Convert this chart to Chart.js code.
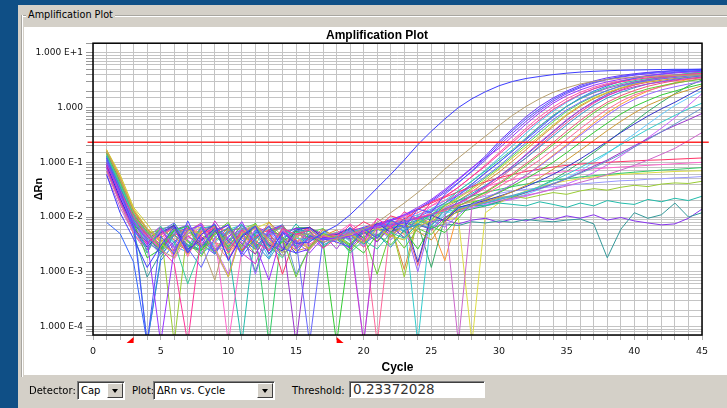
<!DOCTYPE html>
<html>
<head>
<meta charset="utf-8">
<script src="https://cdn.jsdelivr.net/npm/chart.js@4.4.1/dist/chart.umd.min.js"></script>
<style>
  body { margin:0; width:727px; height:408px; overflow:hidden; background:#0f4f86; position:relative; font-family:"DejaVu Sans", sans-serif; }
  #panel { position:absolute; left:18px; top:5px; right:0; bottom:0; background:#d4d0c8; }
  #groupline { position:absolute; left:21px; top:15px; right:0; height:0; border-top:1px solid #a8a6a0; border-bottom:1px solid #fff; }
  #groupleft { position:absolute; left:21px; top:15px; width:0; height:362px; border-left:1px solid #a8a6a0; border-right:1px solid #fff; }
  #grouplabel { position:absolute; left:26px; top:9px; padding:0 2px; background:#d4d0c8; font-size:9.7px; color:#000; }
  #plotbg { position:absolute; left:24px; top:27px; width:703px; height:348px; background:#fff; }
  #wrap { position:absolute; left:24px; top:27px; width:703px; height:348px; }
  #ytitle { position:absolute; left:37.5px; top:188.5px; transform:translate(-50%,-50%) rotate(-90deg); font:bold 11px "Liberation Sans", sans-serif; white-space:nowrap; }
  .lbl { position:absolute; top:385px; font-size:10px; color:#000; }
  .combo { position:absolute; top:381px; height:19px; box-sizing:border-box; border:1px solid; border-color:#808080 #fff #fff #808080; background:#fff; box-shadow:inset 1px 1px 0 #404040; }
  .combo span { position:absolute; left:3px; top:3px; font-size:10px; white-space:nowrap; }
  .btn { position:absolute; right:1px; top:1px; width:16px; height:15px; box-sizing:border-box; background:#d4d0c8; border:1px solid; border-color:#fff #404040 #404040 #fff; }
  .btn::after { content:''; position:absolute; left:3.5px; top:5px; border-left:3.5px solid transparent; border-right:3.5px solid transparent; border-top:4px solid #000; }
  #edit { position:absolute; left:349px; top:381px; width:136px; height:17px; box-sizing:border-box; background:#fff; border:1px solid; border-color:#808080 #fff #fff #808080; box-shadow:inset 1px 1px 0 #404040; font-size:13.5px; color:#333; padding-left:3px; line-height:15px; }
</style>
</head>
<body>
<div id="panel"></div>
<div id="groupline"></div>
<div id="groupleft"></div>
<div id="grouplabel">Amplification Plot</div>
<div id="plotbg"></div>
<div id="wrap"><canvas id="amp" width="703" height="348"></canvas></div>
<div id="ytitle">ΔRn</div>
<div class="lbl" style="left:29px">Detector:</div>
<div class="combo" style="left:77px;width:48px"><span>Cap</span><div class="btn"></div></div>
<div class="lbl" style="left:132px">Plot:</div>
<div class="combo" style="left:153px;width:122px"><span>ΔRn vs. Cycle</span><div class="btn"></div></div>
<div class="lbl" style="left:292px">Threshold:</div>
<div id="edit">0.23372028</div>
<script>
// cycles and axis labels
const cycles = [1,2,3,4,5,6,7,8,9,10,11,12,13,14,15,16,17,18,19,20,21,22,23,24,25,26,27,28,29,30,31,32,33,34,35,36,37,38,39,40,41,42,43,44,45];
const xTickLabels = ['0','5','10','15','20','25','30','35','40','45'];
const yTickValues = [1e-4, 1e-3, 1e-2, 1e-1, 1, 10];
const yTickLabels = ['1.000 E-4', '1.000 E-3', '1.000 E-2', '1.000 E-1', '1.000', '1.000 E+1'];
const threshold = 0.23372028;
const baselineCycles = [3, 18];

// delta Rn per well (5e-5 = dropped below the axis)
const s01 = [.06,.012,.004,.0012,.003,.0065,.0022,.0048,.0075,.0016,.0045,.0068,.0021,.0052,.0033,
  .0035,.0052,.007,.011,.019,.034,.06,.11,.21,.37,.62,1.0,1.45,1.95,2.5,
  3.0,3.4,3.7,4.0,4.25,4.45,4.6,4.7,4.8,4.85,4.9,4.95,5.0,5.0,5.05];
const s02 = [.16,.05,.012,.006,.0025,.0018,.0055,.0032,.0007,.0062,.0028,.0072,.0035,.0019,.0045,
  .005,.0035,.004,.005,.006,.008,.012,.018,.028,.045,.075,.12,.19,.3,.47,
  .72,1.05,1.45,1.9,2.3,2.7,3.0,3.25,3.45,3.6,3.7,3.8,3.85,3.9,3.95];
const s03 = [.12,.03,.007,5e-5,.0045,.0021,.0085,.0028,.0055,.0072,.0019,.004,.0068,.0027,.0022,
  .0045,.004,.0035,.0028,.0062,.0041,.0088,.0065,.014,.012,.026,.042,.07,.12,.22,
  .38,.62,.95,1.4,1.9,2.4,2.9,3.3,3.7,4.0,4.3,4.5,4.7,4.85,5.0];
const s04 = [.1,.025,.008,.0038,5e-5,.0026,.0058,.0071,.0024,.0042,.0082,.0031,.0007,.0055,.0036,
  .0022,.0042,.004,.0045,.0055,.007,.0085,.011,.015,.021,.032,.05,.08,.12,.18,
  .3,.5,.8,1.2,1.65,2.1,2.55,2.95,3.3,3.6,3.85,4.1,4.3,4.45,4.6];
const s05 = [.09,.03,.01,.0045,.0026,.0014,5e-5,.0048,.0065,.0022,.0058,.0036,.0024,.0062,.0048,
  .0058,.0027,.0041,.0072,.0035,.0095,.0062,.0125,.009,.019,.024,.035,.055,.085,.14,
  .23,.38,.6,.92,1.3,1.75,2.2,2.6,2.95,3.25,3.5,3.7,3.9,4.05,4.2];
const s06 = [.14,.04,.012,.0022,.0068,.0035,.0006,.0028,.0062,.0024,.0046,.0071,.0029,.0018,.0052,
  .0055,.0028,.0045,.0022,.0038,.0026,.0052,.0041,.0075,.011,.018,.03,.045,.07,.11,
  .17,.28,.46,.72,1.05,1.45,1.9,2.35,2.75,3.1,3.4,3.7,3.95,4.2,4.4];
const s07 = [.11,.028,.006,.0025,.0055,.0078,.0027,.0012,.0042,.0066,.0021,.0058,.0045,.0019,.0038,
  5e-5,.004,.0042,.005,.006,.007,.0072,.008,.01,.013,.018,.025,.037,.055,.085,
  .14,.23,.38,.6,.9,1.25,1.65,2.05,2.45,2.8,3.1,3.35,3.55,3.75,3.9];
const s08 = [.17,.06,.015,.0075,.0033,.0021,.0058,.0049,.0027,.0008,.0052,.0074,.0038,.0022,.0046,
  .0026,.0048,.0039,.005,.0034,.0062,.0045,.0038,.0068,.0085,.016,.022,.032,.048,.075,
  .12,.19,.3,.48,.75,1.1,1.5,1.9,2.3,2.7,3.0,3.3,3.55,3.8,4.0];
const s09 = [.08,.02,.006,.0032,.0062,.0024,.0045,.0029,.0085,.0038,.0022,.0014,.0056,.0069,.0026,
  .004,.0045,.005,.0042,5e-5,.0075,.0068,.008,.0095,.011,.014,.018,.025,.036,.055,
  .085,.14,.23,.37,.6,.9,1.25,1.65,2.05,2.4,2.7,2.95,3.2,3.4,3.6];
const s10 = [.13,.035,.009,5e-5,.0018,.0048,.0029,.0066,.0021,.0052,.0074,.0033,.0017,.0041,.0058,
  .0055,.0031,.004,.0065,.0032,.0048,.0028,.0058,.0075,.0062,.011,.02,.027,.038,.055,
  .08,.12,.19,.3,.48,.74,1.1,1.5,1.9,2.3,2.7,3.0,3.3,3.55,3.8];
const s11 = [.15,.045,.011,.0055,.0028,.0061,.0036,.0019,.0052,.008,.0024,.0039,.0067,.0042,.0008,
  .0028,.005,.004,.0024,.0046,.0009,.0055,.0027,.0062,.0048,.0092,.016,.021,.028,.04,
  .058,.088,.135,.21,.33,.52,.8,1.15,1.5,1.85,2.2,2.5,2.8,3.05,3.3];
const s12 = [.07,.018,.005,.0026,.0048,.0062,.0019,.0058,.0034,.0017,.0051,.0066,.0025,.0061,.0032,
  .0032,.0044,.0046,.005,.0055,5e-5,.0078,.009,.0098,.0115,.013,.016,.02,.026,.036,
  .05,.075,.11,.17,.26,.41,.63,.93,1.3,1.7,2.05,2.4,2.75,3.1,3.4];
const s13 = [.12,.032,.008,.0042,.0068,.0027,.0049,.0076,.0021,.0045,.0058,.0009,.0052,.0039,.0028,
  .0062,.004,.0038,.0058,.0029,.0066,.0038,.0072,.001,.0088,.0065,.011,.017,.022,.029,
  .04,.058,.085,.13,.2,.31,.48,.72,1.05,1.4,1.75,2.1,2.4,2.7,3.0];
const s14 = [.1,.03,.008,.0018,.0026,.0057,.0069,.0025,.0048,.0062,.0029,.0078,.0022,.0035,.0055,
  .0042,.0035,5e-5,.0034,.0022,.0048,.0031,.0057,.0026,.0068,.0052,.0095,.018,.022,.028,
  .037,.05,.07,.1,.15,.23,.35,.52,.76,1.05,1.35,1.7,2.0,2.35,2.7];
const s15 = [.16,.05,.013,.006,.0036,.0048,.0021,.0054,.0068,.0026,.0049,.0031,.0082,.0044,.0024,
  .0028,.0059,.0042,.0048,.0033,.0062,.0045,.0072,.0055,.0038,.0082,.0135,.016,.019,.023,
  .029,.038,.052,.075,.11,.165,.25,.38,.56,.8,1.1,1.4,1.75,2.1,2.5];
const s16 = [.09,.022,.0065,.0028,.0052,.0071,.0026,.0038,.0062,.0017,.0043,.0065,.0031,.0024,.0058,
  .0065,.0042,.0048,.0062,.0041,.0078,.0052,.0095,.0015,.011,.0085,.015,.0175,.02,.024,
  .029,.036,.046,.06,.082,.115,.165,.24,.35,.5,.7,.95,1.25,1.7,2.3];
const s17 = [.13,.04,.01,.0052,.0029,.0055,.0068,.0021,.0034,.0059,.0072,.0037,.0026,.0063,.0041,
  .0038,.005,.0045,.0055,.006,.0068,.0078,.0088,5e-5,.011,.0125,.014,.016,.018,.021,
  .024,.029,.036,.046,.06,.08,.11,.15,.21,.29,.4,.54,.72,.95,1.2];
const s18 = [.11,.03,.009,.0038,.0021,.0049,.0058,.0072,.0026,.0034,.0061,.0028,.0046,.0067,.0009,
  .0027,.0045,.0052,.0038,.0065,.0044,.0078,.0052,.0098,.0072,.0135,.015,.017,.019,.022,
  .025,.029,.034,.041,.05,.063,.08,.105,.14,.19,.26,.36,.5,.7,.98];
const s19 = [.08,.02,.006,.0035,.0048,.0069,.0023,.0041,.0058,.0071,.0032,.0021,.0054,.0047,5e-5,
  .0045,.0038,.0042,.0026,.0052,.0035,.0068,.0042,.0075,.0058,.0098,.014,.016,.018,.021,
  .024,.028,.033,.04,.05,.065,.085,.11,.15,.2,.27,.36,.47,.6,.78];
const s20 = [.06,.015,.005,.0022,.0061,.0028,.0066,.0042,.0024,.0008,.0056,.0073,.0033,.0027,.0049,
  .0042,.0045,.0038,.0048,.0058,.0065,.0075,.0085,.0098,.011,.0125,5e-5,.016,.018,.02,
  .022,.025,.028,.032,.037,.043,.05,.06,.072,.088,.11,.14,.18,.25,.35];
const s21 = [.15,.045,.012,.0052,.0027,.0046,.0063,.0029,.0051,.0072,.0025,.0044,.0059,.0009,.0047,
  .0066,.0042,.0045,.0055,.0082,.0062,.0105,.0088,.014,.018,.023,.029,.036,.044,.052,
  .06,.068,.075,.082,.088,.093,.097,.1,.103,.106,.109,.111,.114,.117,.12];
const s22 = [.1,.028,.007,.0033,.0059,.0017,.0042,.0067,.0048,5e-5,.0025,.0061,.0031,.0056,.0043,
  .0025,.0048,.005,.0075,.0052,.0092,.0068,.011,.0095,.016,.02,.025,.03,.036,.042,
  .048,.054,.059,.064,.068,.072,.076,.079,.082,.085,.088,.091,.094,.097,.1];
const s23 = [.12,.035,.009,.0046,.0023,.0078,.0036,.0024,.0063,.0029,.0055,.0047,5e-5,.0068,.0027,
  .0061,.004,.0048,.0032,.0062,.0045,.0085,.0062,.0105,.0088,.017,.02,.024,.028,.032,
  .036,.04,.044,.047,.05,.054,.057,.06,.063,.066,.069,.072,.074,.077,.08];
const s24 = [.09,.024,.007,.0038,.0055,.0064,.0022,.0058,.0029,.0024,.0068,.0041,.0053,.0031,.0026,
  .0045,.0038,.005,.0055,5e-5,.007,.008,.0092,.011,.013,.015,.018,.021,.024,.027,
  .03,.032,.034,.036,.038,.04,.042,.044,.046,.047,.049,.05,.052,.053,.055];
const s25 = [.14,.04,.011,.0051,.0058,5e-5,.0066,.0031,.0023,.0057,.0062,.0026,.0044,.0071,.0035,
  .0027,.0046,.0042,.0031,.0058,.0036,.0075,.0008,.0092,.0072,.014,.0165,.019,.021,.023,
  .024,.022,.025,.028,.026,.03,.033,.031,.035,.038,.036,.04,.042,.041,.045];
const s26 = [.11,.03,.008,.0041,.0025,.0058,.0024,.0063,.0069,.0027,5e-5,.0058,.0029,.0036,.0075,
  .0042,.004,.0046,.0028,.0062,.0041,.0072,.0055,.0088,.0068,.0135,.015,.0165,.016,.018,
  .017,.016,.019,.017,.015,.018,.016,.02,.018,.017,.021,.019,.022,.02,.024];
const s27 = [.07,.018,.005,.0008,.0022,.0057,.0031,.0025,.0066,.0035,.0058,.001,.0053,.0069,.0029,
  .0046,.0042,.0038,.0045,.005,.006,.0055,.0065,.007,.0062,.0075,.007,.0082,.0078,.0085,
  .008,.009,.0085,.0082,.0088,.0092,.0075,.0018,.006,.012,.0095,.011,.018,.01,.012];
const s28 = [.13,.035,.009,.0047,.0021,.0035,.0068,.0044,.0023,.0059,.0032,.0071,.0024,.0048,.0062,
  .0062,.0048,.0044,.0052,.0058,.0064,.007,.0078,.0068,.0082,.009,.0075,.0088,.0095,.008,
  .0092,.0085,.01,.009,.0105,.0095,.011,.0088,.0098,.0085,.0078,.0072,.0075,.0095,.014];
const s29 = [.15,.05,.014,.0062,.0034,.0024,.0057,.0066,.0035,.0021,.0048,.0062,.008,.0033,.0025,
  .0042,.0048,.0052,.0045,.0055,.006,.0068,.0075,.008,.0085,.009,.0095,5e-5,.012,.018,
  .024,.03,.036,.041,.046,.05,.054,.057,.06,.062,.064,.066,.068,.069,.07];
const s30 = [.008,.005,.0015,5e-5,.0016,.0032,.0067,.0039,.0022,.0061,.0038,.0026,.0058,.0072,.0029,
  .0042,.0045,.0048,.004,.0052,.0058,.0062,.0072,.0088,.011,.016,.025,.04,.065,.1,
  .16,.26,.42,.68,1.05,1.5,2.0,2.5,3.0,3.4,3.8,4.1,4.4,4.6,4.8];
const s31 = [.13,.038,.01,.0051,.0032,.0024,.0055,.0078,.0035,.0026,.0052,.0066,.0038,.0027,.0059,
  .003,.0042,.005,.0055,.0062,.007,.0078,.0085,.0095,.011,.013,.017,.024,.034,.05,
  .078,.12,.2,.33,.53,.82,1.2,1.65,2.1,2.6,3.0,3.4,3.8,4.15,4.5];
const s32 = [.1,.028,.0075,.0038,.0061,.0068,.0029,.0024,.0056,.0037,.0071,.0029,.0049,.0025,.0064,
  .0064,.0048,.0042,.0029,.0055,.0036,.0068,.0042,.0075,.0012,.0098,.0125,.014,.016,.019,
  .023,.028,.036,.048,.068,.1,.15,.23,.36,.55,.85,1.25,1.8,2.5,3.2];
const s33 = [.12,.034,.009,.0046,.0027,.0052,.0073,.0035,.0028,.0009,.0058,.0046,.0069,.0061,.0027,
  .0048,.0044,.0046,.0062,.0035,.0071,.0045,.0086,.0058,.0108,.0082,.0135,.015,.017,.019,
  .021,.024,.028,.033,.04,.05,.065,.09,.13,.19,.28,.42,.65,1.1,1.8];
const s34 = [.09,.022,.006,.0025,.0052,.0066,.0024,.0058,.0071,.0036,.0023,.0051,.0067,.0039,.0022,
  .0026,.0045,.005,.0055,.0065,.0075,.009,.011,.014,.02,.03,.048,.078,.13,.24,
  .41,.68,1.05,1.5,2.0,2.55,3.05,3.5,3.85,4.15,4.4,4.6,4.75,4.85,4.9];
const s35 = [.17,.055,.014,.0062,.0038,.002,.0061,.0052,.0073,.0031,.0054,.0025,.0059,.0068,.0034,
  .006,.0038,.0045,.0031,.0058,.0042,.0072,.0048,.0085,.0068,.0016,.013,.016,.021,.028,
  .04,.058,.088,.135,.21,.33,.52,.8,1.15,1.55,2.0,2.45,2.85,3.3,3.7];
const s36 = [.075,.02,.0055,.0028,.0059,.0033,.0068,.0027,.0052,.0074,.0026,.0048,.0062,.0033,.0057,
  .003,.0042,.0052,.0036,.0065,.0045,.0078,.0056,.0094,.0072,.0118,.013,.0148,.0168,.019,
  .022,.026,.032,.04,.052,.07,.1,.145,.22,.33,.5,.75,1.1,1.5,2.0];
const s37 = [.11,.03,.0085,.0041,.0026,.0059,.0071,.0032,.0021,.0055,.0064,.0028,.0047,.0072,.0035,
  .0044,.0027,.0052,.0061,.0058,.0074,.0085,.0105,.0135,.019,.028,.043,.068,.11,.2,
  .34,.56,.88,1.3,1.8,2.3,2.8,3.25,3.6,3.9,4.15,4.35,4.5,4.6,4.7];
const s38 = [.14,.042,.011,.0048,.0031,.0024,.0062,.0049,.0058,.0023,.0036,.0068,.0052,.0025,.0041,
  .0063,.0034,.0045,.0052,.0064,.0071,.0088,.0098,.012,.016,.023,.035,.055,.09,.15,
  .25,.42,.68,1.02,1.45,1.9,2.35,2.75,3.1,3.4,3.65,3.85,4.0,4.15,4.3];
const s39 = [.1,.027,.0072,.0036,.0062,.0029,.0023,.0055,.0067,.0041,.0027,.0053,.0018,.0061,.0046,
  .0029,.0055,.0042,.0048,.0061,.0066,.0078,.009,.011,.014,.02,.03,.046,.072,.12,
  .2,.34,.56,.86,1.25,1.7,2.2,2.65,3.05,3.45,3.8,4.05,4.3,4.45,4.6];
const s40 = [.085,.021,.0062,.0031,.0047,.0066,.0039,.0021,.0058,.0033,.0071,.0046,.0029,.0052,.0063,
  .0037,.0049,.0026,.0056,.0038,.0069,.0048,.0088,.0072,.0135,.018,.027,.04,.063,.1,
  .16,.27,.45,.7,1.05,1.45,1.85,2.25,2.6,2.95,3.25,3.5,3.7,3.85,4.0];
const s41 = [.13,.037,.0095,.0049,.0058,.0033,.0025,.0067,.0044,.0029,.0061,.0075,.0034,.0043,.0021,
  .0051,.0062,.0038,.0047,.0032,.0061,.0044,.0085,.0065,.0125,.016,.023,.034,.052,.08,
  .13,.21,.34,.55,.85,1.2,1.6,2.05,2.5,2.9,3.25,3.55,3.8,3.95,4.1];
const s42 = [.16,.052,.013,.0058,.0041,.0067,.0048,.0027,.0036,.0064,.0043,.0021,.0057,.0069,.0038,
  .0026,.0045,.0058,.0036,.0057,.0041,.0073,.0011,.0098,.0078,.015,.02,.029,.044,.066,
  .105,.17,.28,.45,.72,1.05,1.45,1.85,2.25,2.6,2.9,3.15,3.4,3.6,3.8];
const s43 = [.095,.025,.007,.0034,.0024,.0051,.0064,.0038,.0055,.0028,.0049,.0073,.0041,.0022,.0056,
  .0047,.0033,.0049,.0058,.0055,.0067,.0074,.0084,.0096,.0112,.014,.018,.025,.037,.055,
  .085,.135,.22,.36,.58,.9,1.3,1.75,2.25,2.75,3.2,3.6,3.9,4.15,4.4];
const s44 = [.12,.033,.0088,.0043,.0066,.0038,.0025,.0049,.0062,.0055,.0023,.0046,.0068,.0034,.0051,
  .0039,.0061,.0033,.0049,.0028,.0065,.0042,.0081,.0013,.0107,.0082,.016,.021,.029,.042,
  .062,.095,.145,.23,.37,.58,.88,1.25,1.65,2.05,2.45,2.8,3.1,3.3,3.5];

const wells = [s01,s02,s03,s04,s05,s06,s07,s08,s09,s10,s11,s12,s13,s14,s15,s16,s17,s18,s19,s20,s21,s22,
  s23,s24,s25,s26,s27,s28,s29,s30,s31,s32,s33,s34,s35,s36,s37,s38,s39,s40,s41,s42,s43,s44];
const wellColors = ['#3c3cff','#b8a070','#5050ff','#9933ff','#ff3399','#33cc99','#6666ff','#cccc33',
  '#cc33cc','#3399cc','#66cc33','#ff6699','#9966ff','#33cc33','#cc9933','#3333cc','#33cccc','#6699cc',
  '#9933cc','#cc66cc','#ff3366','#ff66cc','#33cc66','#9999ff','#99cc33','#22bbaa','#339999','#8833ee',
  '#dddd44','#3366ff','#ee4499','#33aa66','#cc66ff','#6633ff','#ff9933','#66ccff',
  '#7744ff','#ff55aa','#44bbee','#aa44dd','#55dd55','#dd8833','#4466dd','#ee5577'];

const datasets = [{
  data: [{x: -0.4, y: threshold}, {x: 45.5, y: threshold}],
  borderColor: '#ff2a2a', borderWidth: 1.5, pointRadius: 0, clip: false
}];
wells.forEach(function(w, i) {
  datasets.push({ data: w, borderColor: wellColors[i], borderWidth: 1, pointRadius: 0, tension: 0 });
});

// plot frame and the red baseline start/end markers
const framePlugin = {
  id: 'frame',
  afterDatasetsDraw(chart) {
    const ctx = chart.ctx, a = chart.chartArea, x = chart.scales.x;
    ctx.save();
    ctx.strokeStyle = '#000';
    ctx.lineWidth = 1.5;
    ctx.strokeRect(a.left, a.top, a.right - a.left, a.bottom - a.top);
    ctx.fillStyle = '#ff0000';
    const y0 = a.bottom + 2;
    let px = x.getPixelForValue(baselineCycles[0]);
    ctx.beginPath(); ctx.moveTo(px, y0); ctx.lineTo(px, y0 + 6); ctx.lineTo(px - 7, y0 + 6); ctx.closePath(); ctx.fill();
    px = x.getPixelForValue(baselineCycles[1]);
    ctx.beginPath(); ctx.moveTo(px, y0); ctx.lineTo(px, y0 + 6); ctx.lineTo(px + 7, y0 + 6); ctx.closePath(); ctx.fill();
    ctx.restore();
  }
};

new Chart(document.getElementById('amp'), {
  type: 'line',
  data: { labels: cycles, datasets: datasets },
  plugins: [framePlugin],
  options: {
    responsive: false,
    animation: false,
    layout: { padding: { left: 8, right: 5, top: 0, bottom: 0 } },
    plugins: {
      legend: { display: false },
      tooltip: { enabled: false },
      title: {
        display: true,
        text: 'Amplification Plot',
        color: '#000',
        font: { family: 'Liberation Sans', size: 12, weight: 'bold' },
        padding: { top: 1.5, bottom: 0.3 }
      }
    },
    scales: {
      x: {
        type: 'linear', min: 0, max: 45,
        afterFit: function(s) { s.height = 40; },
        border: { display: false },
        grid: { color: '#c4c4c4', tickColor: '#b0b0b0', tickLength: 5 },
        ticks: {
          stepSize: 1, autoSkip: false, maxRotation: 0, padding: 6, color: '#111',
          font: { family: 'DejaVu Sans', size: 9.5 },
          callback: function(v) { return xTickLabels.includes(String(v)) ? String(v) : ''; }
        },
        title: {
          display: true, text: 'Cycle', color: '#000',
          font: { family: 'Liberation Sans', size: 12, weight: 'bold' },
          padding: { top: 0, bottom: 0 }
        }
      },
      y: {
        type: 'logarithmic', min: 7e-5, max: 15,
        afterFit: function(s) { s.width = 61; },
        border: { display: false },
        grid: { color: '#c4c4c4', tickColor: '#999', tickLength: 7 },
        ticks: {
          autoSkip: false, padding: 3, color: '#111',
          font: { family: 'DejaVu Sans', size: 9 },
          callback: function(v) {
            for (let i = 0; i < yTickValues.length; i++) {
              if (Math.abs(Math.log10(v) - Math.log10(yTickValues[i])) < 1e-6) return yTickLabels[i];
            }
            return '';
          }
        }
      },
      yRight: {
        position: 'right', display: true,
        afterFit: function(s) { s.width = 20; },
        border: { display: false },
        grid: { display: false },
        ticks: { display: false }
      }
    }
  }
});
</script>
</body>
</html>
